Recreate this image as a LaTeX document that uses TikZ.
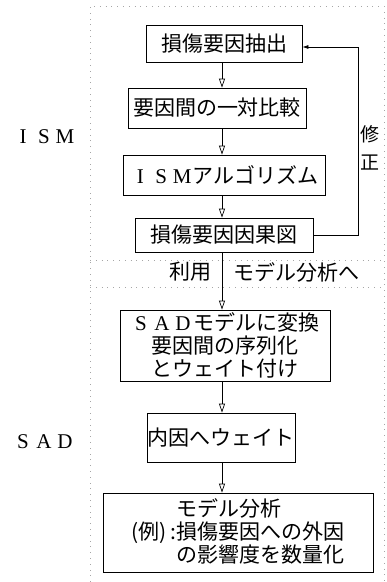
\documentclass[tikz,border=0pt]{standalone}
\usepackage{fontspec}
\newfontfamily\jp{Noto Sans CJK JP}
\newfontfamily\lat{Liberation Serif}
\usetikzlibrary{arrows.meta}
\newcommand\fw[1]{\makebox[1em]{\lat #1}}
\begin{document}
\begin{tikzpicture}[x=1pt,y=-1pt,
  box/.style={draw, line width=0.8pt, inner sep=0pt, font=\jp\fontsize{21}{23}\selectfont, align=center},
  lab/.style={inner sep=0pt, font=\jp\fontsize{21}{23}\selectfont},
  arr/.style={-{Triangle[open,length=9pt,width=6pt]}, line width=0.7pt},
  fbarr/.style={-{Latex[length=6pt,width=4pt]}, line width=0.7pt},
  frame/.style={gray!70, line width=0.8pt, dash pattern=on 0.8pt off 5pt}]
\useasboundingbox (0,0) rectangle (387,582);
% dotted frames
\draw[frame] (90,582) -- (90,6) -- (384,6) -- (384,582);
\draw[frame] (90,260) -- (384,260);
\draw[frame] (90,287) -- (384,287);
% boxes
\node[box, minimum width=156pt, minimum height=37pt] (b1) at (224,43.5) {損傷要因抽出};
\node[box, minimum width=178pt, minimum height=40pt] (b2) at (217,108) {要因間の一対比較};
\node[box, minimum width=202pt, minimum height=40pt] (b3) at (224,175) {\fw{I}\fw{S}\fw{M}アルゴリズム};
\node[box, minimum width=178pt, minimum height=34pt] (b4) at (224,235) {損傷要因因果図};
\node[box, minimum width=210pt, minimum height=71pt] (b5) at (225,345.5) {\fw{S}\fw{A}\fw{D}モデルに変換\\要因間の序列化\\とウェイト付け};
\node[box, minimum width=148pt, minimum height=49pt] (b6) at (221,437.5) {内因へウェイト};
\node[box, minimum width=270pt, minimum height=79pt, align=left] (b7) at (238,532.5) {\phantom{(例)\,:}モデル分析\\(例)\,:損傷要因への外因\\\phantom{(例)\,:}の影響度を数量化};
% side labels
\node[lab] (ism) at (44,137) {\fw{I}\fw{S}\fw{M}};
\node[lab] (sad) at (44,442) {\fw{S}\fw{A}\fw{D}};
\node[lab, align=center, font=\jp\fontsize{19}{28}\selectfont] (sh) at (370,148) {修\\正};
\node[lab, anchor=east] (ry) at (212,272) {利用};
\node[lab, anchor=west] (mb) at (233,272) {モデル分析へ};
% arrows
\coordinate (ax) at (222,0);
\coordinate (fb) at (358,0);
\draw[arr] (b1.south -| ax) -- (b2.north -| ax);
\draw[arr] (b2.south -| ax) -- (b3.north -| ax);
\draw[arr] (b3.south -| ax) -- (b4.north -| ax);
\draw[arr] (b4.south -| ax) -- (b5.north -| ax);
\draw[arr] (b5.south -| ax) -- (b6.north -| ax);
\draw[arr] (b6.south -| ax) -- (b7.north -| ax);
\coordinate (b1in) at ([yshift=-3.5pt]b1.east);
\draw[fbarr] (b4.east) -- (b4.east -| fb) -- (fb |- b1in) -- (b1in);
\end{tikzpicture}
\end{document}
